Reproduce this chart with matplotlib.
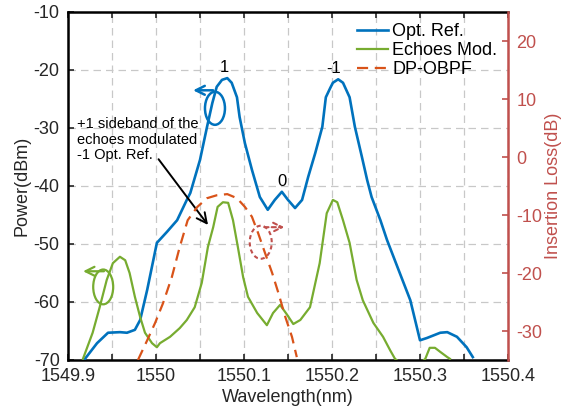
import matplotlib
matplotlib.use("Agg")
import matplotlib.pyplot as plt
from matplotlib.patches import Ellipse
from matplotlib.ticker import MultipleLocator

plt.rcParams["font.family"] = ["Liberation Sans", "DejaVu Sans"]
plt.rcParams["axes.unicode_minus"] = False

# Opt. Ref. (left axis, dBm)
ref_wl = [1549.9193, 1549.933, 1549.9455, 1549.959, 1549.967, 1549.976, 1549.982,
          1549.990, 1550.001, 1550.0125, 1550.024, 1550.035, 1550.039, 1550.050,
          1550.058, 1550.064, 1550.069, 1550.075, 1550.081, 1550.086, 1550.092,
          1550.095, 1550.101, 1550.109, 1550.118, 1550.127, 1550.135, 1550.143,
          1550.150, 1550.158, 1550.166, 1550.173, 1550.181, 1550.189, 1550.193,
          1550.198, 1550.201, 1550.207, 1550.2125, 1550.220, 1550.226, 1550.234,
          1550.240, 1550.245, 1550.255, 1550.2625, 1550.277, 1550.289, 1550.300,
          1550.308, 1550.323, 1550.331, 1550.342, 1550.353, 1550.360]
ref_p = [-69.8, -67.1, -65.3, -65.2, -65.3, -64.8, -63.1,
         -57.9, -49.8, -47.9, -45.9, -42.4, -41.2, -35.5,
         -29.8, -25.7, -22.9, -21.7, -21.4, -22.2, -24.7,
         -28.1, -32.6, -37.2, -41.9, -44.1, -42.4, -41.0,
         -42.4, -43.8, -42.4, -38.4, -34.3, -29.8, -24.7,
         -23.1, -22.2, -21.6, -22.2, -24.7, -29.8, -35.0,
         -39.0, -41.9, -45.9, -49.3, -55.0, -59.7, -66.6,
         -66.2, -65.3, -65.2, -66.0, -67.8, -69.5]

# Echoes Mod. (left axis, dBm)
echo_wl = [1549.917, 1549.928, 1549.936, 1549.944, 1549.951, 1549.959, 1549.965,
           1549.970, 1549.976, 1549.982, 1549.9875, 1549.9955, 1550.001, 1550.0045,
           1550.016, 1550.027, 1550.035, 1550.044, 1550.052, 1550.059, 1550.065,
           1550.070, 1550.076, 1550.082, 1550.0875, 1550.093, 1550.099, 1550.1045,
           1550.115, 1550.126, 1550.133, 1550.141, 1550.149, 1550.156, 1550.164,
           1550.175, 1550.186, 1550.194, 1550.201, 1550.206, 1550.2125, 1550.220,
           1550.228, 1550.235, 1550.247, 1550.258, 1550.266, 1550.2716, 1550.290,
           1550.306, 1550.311, 1550.317, 1550.323, 1550.331, 1550.334]
echo_p = [-69.8, -65.3, -60.9, -56.2, -53.3, -52.2, -52.8,
          -55.0, -59.1, -62.6, -65.3, -67.1, -67.8, -67.1,
          -66.0, -64.5, -63.1, -60.9, -56.7, -50.5, -47.1,
          -43.6, -42.8, -42.9, -45.9, -50.5, -55.7, -59.1,
          -61.9, -64.0, -61.9, -60.5, -62.2, -63.8, -63.1,
          -60.9, -53.3, -44.7, -42.4, -42.8, -45.9, -49.8,
          -56.2, -59.7, -63.6, -66.0, -68.3, -69.8, -72.0,
          -69.8, -67.9, -67.9, -68.6, -69.5, -69.8]

# DP-OBPF (right axis, insertion loss dB)
filt_wl = [1549.9795, 1549.990, 1549.999, 1550.008, 1550.018, 1550.027, 1550.036,
           1550.047, 1550.058, 1550.069, 1550.081, 1550.092, 1550.101, 1550.109,
           1550.116, 1550.124, 1550.132, 1550.139, 1550.147, 1550.1545, 1550.160]
filt_il = [-35.0, -31.6, -28.6, -25.2, -20.7, -15.5, -10.9,
           -8.6, -7.1, -6.6, -6.4, -7.1, -8.6, -10.3,
           -13.1, -16.6, -20.0, -23.4, -27.6, -31.0, -34.5]

peak_labels = ["1", "-1", "0"]
peak_wl = [1550.078, 1550.202, 1550.143]
peak_p = [-19.5, -19.7, -39.3]

blue = "#0072BD"
green = "#77AC30"
orange = "#D95319"
red = "#C0504D"
tick_color = "#262626"

fig = plt.figure(figsize=(5.64, 4.13), dpi=100)
ax = fig.add_axes([68 / 564, 53 / 413, 440 / 564, 348 / 413])
ax2 = ax.twinx()

ax.plot(ref_wl, ref_p, color=blue, lw=1.9, label="Opt. Ref.", zorder=3)
ax.plot(echo_wl, echo_p, color=green, lw=1.6, label="Echoes Mod.", zorder=3)
ax2.plot(filt_wl, filt_il, color=orange, lw=1.6, ls=(0, (5, 3)), label="DP-OBPF")

ax.set_xlim(1549.9, 1550.4)
ax.set_ylim(-70, -10)
ax2.set_ylim(-35, 25)

ax.xaxis.set_minor_locator(MultipleLocator(0.05))
ax.yaxis.set_major_locator(MultipleLocator(10))
ax.set_xticks([1549.9, 1550.0, 1550.1, 1550.2, 1550.3, 1550.4])
ax.set_xticklabels(["1549.9", "1550", "1550.1", "1550.2", "1550.3", "1550.4"])
ax2.set_yticks([-30, -20, -10, 0, 10, 20])

grid_kw = dict(color="#c8c8c8", lw=0.9, ls=(0, (6, 4)))
ax.grid(True, which="both", axis="x", **grid_kw)
ax.grid(True, which="major", axis="y", **grid_kw)
ax.set_axisbelow(True)

ax.tick_params(axis="both", which="both", direction="in", top=True, right=False,
               labelsize=13, colors=tick_color, length=4, width=1.2)
ax.tick_params(axis="x", pad=6)
ax.tick_params(axis="y", pad=6)
ax2.tick_params(axis="y", direction="in", colors=red, labelsize=13,
                length=4, width=1.2, pad=6)

for side in ["left", "bottom", "top"]:
    ax.spines[side].set_color("black")
    ax.spines[side].set_linewidth(1.8)
ax.spines["right"].set_visible(False)
for side in ["left", "bottom", "top"]:
    ax2.spines[side].set_visible(False)
ax2.spines["right"].set_color(red)
ax2.spines["right"].set_linewidth(1.8)

ax.set_xlabel("Wavelength(nm)", fontsize=13, color=tick_color, labelpad=3)
ax.set_ylabel("Power(dBm)", fontsize=13, color=tick_color, labelpad=2)
ax2.set_ylabel("Insertion Loss(dB)", fontsize=13, color=red, labelpad=2)

h1, l1 = ax.get_legend_handles_labels()
h2, l2 = ax2.get_legend_handles_labels()
ax2.legend(h1 + h2, l1 + l2, loc="upper right", bbox_to_anchor=(1.0, 1.0),
           frameon=False, fontsize=13, handlelength=1.7, handletextpad=0.25,
           labelspacing=0.12, borderaxespad=0.2)

for lab, x, y in zip(peak_labels, peak_wl, peak_p):
    ax.text(x, y, lab, fontsize=12, ha="center", va="center", color="black")

ax.text(1549.910, -28.1, "+1 sideband of the\nechoes modulated\n-1 Opt. Ref.",
        fontsize=10.5, ha="left", va="top", linespacing=1.15, color="black")
ax.annotate("", xy=(1550.061, -47.1), xytext=(1550.001, -35.0),
            arrowprops=dict(arrowstyle="->", color="black", lw=1.4,
                            mutation_scale=18))

# side markers: ellipses with arrows pointing to the axis
ax.add_patch(Ellipse((1550.067, -26.6), 0.0227, 5.7, fill=False, ec=blue, lw=1.8, zorder=4))
ax.annotate("", xy=(1550.039, -23.5), xytext=(1550.068, -23.5),
            arrowprops=dict(arrowstyle="->", color=blue, lw=1.8, mutation_scale=16))
ax.add_patch(Ellipse((1549.940, -57.4), 0.0227, 6.0, fill=False, ec=green, lw=1.6, zorder=4))
ax.annotate("", xy=(1549.914, -54.7), xytext=(1549.944, -54.7),
            arrowprops=dict(arrowstyle="->", color=green, lw=1.6, mutation_scale=16))
ax.add_patch(Ellipse((1550.119, -49.7), 0.025, 5.7, fill=False, ec=red, lw=1.5,
                     ls=(0, (2, 1.5)), zorder=4))
ax.annotate("", xy=(1550.149, -47.1), xytext=(1550.120, -47.1),
            arrowprops=dict(arrowstyle="->", color=red, lw=1.5, ls=(0, (2, 1.5)),
                            mutation_scale=16))

fig.savefig("out.png", dpi=100)
